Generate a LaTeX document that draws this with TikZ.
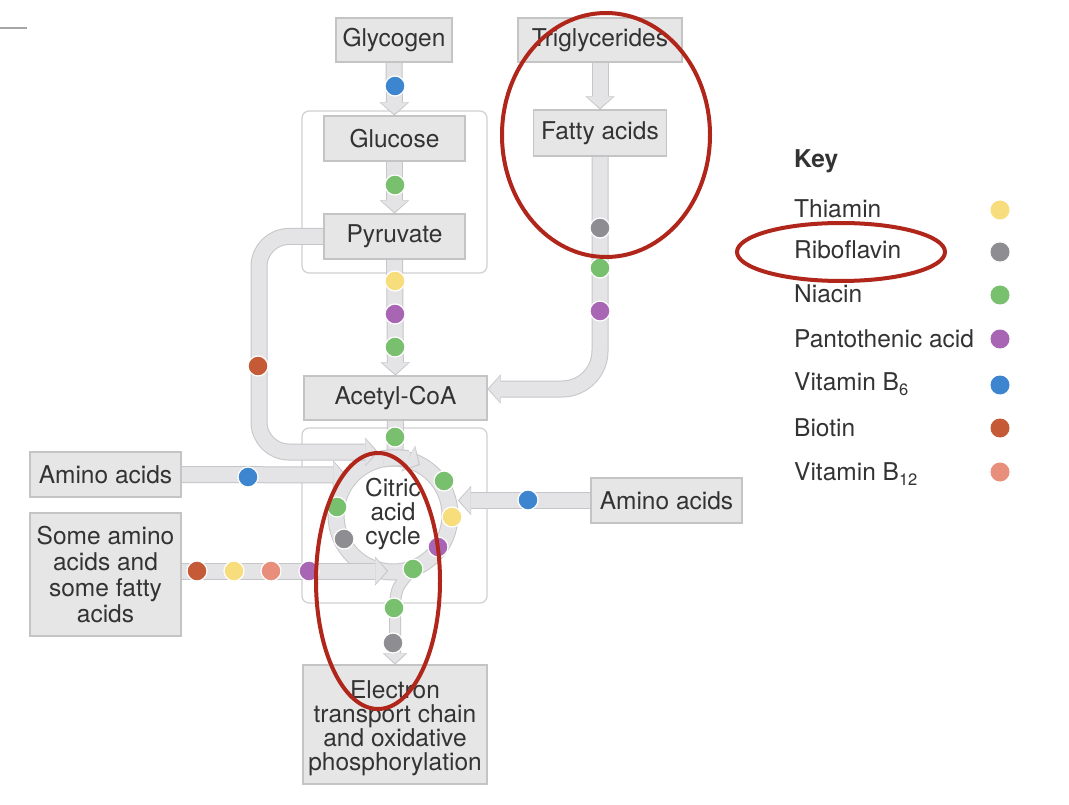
\documentclass[tikz,border=0pt]{standalone}
\usepackage{fontspec}
\setmainfont{TeX Gyre Heros}
\usetikzlibrary{arrows.meta}
\definecolor{boxfill}{HTML}{E6E6E6}
\definecolor{boxline}{HTML}{C4C4C4}
\definecolor{bandfill}{HTML}{E4E4E6}
\definecolor{bandline}{HTML}{C6C6C8}
\definecolor{txt}{HTML}{333333}
\definecolor{framec}{HTML}{D0D0D0}
\definecolor{cthia}{HTML}{F8DD7C}
\definecolor{cribo}{HTML}{8E8E92}
\definecolor{cnia}{HTML}{78C06E}
\definecolor{cpan}{HTML}{A865B4}
\definecolor{cbsix}{HTML}{3D86CF}
\definecolor{cbio}{HTML}{C45A36}
\definecolor{cbtw}{HTML}{E88F7B}
\definecolor{redmark}{HTML}{B0261B}
\pgfdeclarelayer{bg}
\pgfsetlayers{bg,main}
\newcommand\fs{\fontsize{24.5}{24}\selectfont}
\tikzset{
 box/.style={draw=boxline, fill=boxfill, line width=1.2pt, text=txt, font=\fs, inner sep=0pt, align=center},
 frame/.style={draw=framec, fill=white, line width=1.2pt, rounded corners=7pt},
 fout/.style={draw=bandline, line width=17pt, -{Triangle[width=29pt,length=13pt,line width=0.01pt]}},
 fin/.style={draw=bandfill, line width=15pt, shorten >=1.4pt, -{Triangle[width=26pt,length=11.2pt,line width=0.01pt]}},
 nout/.style={draw=bandline, line width=12pt, -{Triangle[width=24pt,length=11pt,line width=0.01pt]}},
 nin/.style={draw=bandfill, line width=10pt, shorten >=1.4pt, -{Triangle[width=21pt,length=9.4pt,line width=0.01pt]}},
 bout/.style={draw=bandline, line width=17pt},
 bin/.style={draw=bandfill, line width=15pt},
 dot/.style={circle, minimum size=20pt, inner sep=0pt, draw=white, line width=1.2pt, fill=#1},
 kdot/.style={circle, minimum size=19pt, inner sep=0pt, fill=#1},
 keytxt/.style={anchor=base west, font=\fs, text=txt, inner sep=0pt},
 redring/.style={draw=redmark, line width=4pt},
}
\newcommand\flow[2][]{\draw[fout,#1] #2; \draw[fin,#1] #2;}
\newcommand\sub[1]{\raisebox{-5pt}{\fontsize{16.5}{16}\selectfont #1}}
\begin{document}
\begin{tikzpicture}[x=1pt,y=-1pt]
\useasboundingbox (0,0) rectangle (1069,805);
% boxes
\node[box, minimum width=116pt, minimum height=44pt] (glycogen) at (394,40) {Glycogen};
\node[box, minimum width=164pt, minimum height=44pt] (trig) at (600,40) {Triglycerides};
\node[box, minimum width=141pt, minimum height=45pt] (glucose) at (394.5,138.5) {Glucose};
\node[box, minimum width=133pt, minimum height=46pt] (fatty) at (600,133) {Fatty acids};
\node[box, minimum width=141pt, minimum height=45pt] (pyruvate) at (394.5,236.5) {Pyruvate};
\node[box, minimum width=183pt, minimum height=44pt] (acetyl) at (395.5,398) {Acetyl-CoA};
\node[box, minimum width=151pt, minimum height=45pt] (aminoL) at (105.5,474.5) {Amino acids};
\node[box, minimum width=151pt, minimum height=123pt, font=\fontsize{24.5}{26}\selectfont] (some) at (105.5,574.5) {Some amino\\acids and\\some fatty\\acids};
\node[box, minimum width=151pt, minimum height=45pt] (aminoR) at (666.5,500.5) {Amino acids};
\node[box, minimum width=184pt, minimum height=119pt] (etc) at (395,724.5) {};
\node[font=\fs, text=txt, align=center, inner sep=0pt] (etclabel) at (395,728) {Electron\\transport chain\\and oxidative\\phosphorylation};
\node[font=\fs, text=txt, align=center, inner sep=0pt] (cyclelabel) at (393,514) {Citric\\acid\\cycle};
\coordinate (cyc) at (393,515);
\coordinate (ringtop) at (395,458);
\coordinate (exitA) at (408,574);
\coordinate (loopA) at (259,452);
\coordinate (loopEnd) at (378,452);
\coordinate (amLend) at (346,475);
\coordinate (amRend) at (458,500.5);
\coordinate (saEnd) at (388,571);
\begin{pgfonlayer}{bg}
\fill[white] (0,0) rectangle (1069,805);
\draw[frame] (302,111) rectangle (487,273);
\draw[frame] (302,428) rectangle (487,603);
% merged ring, acetyl link and exit
\draw[bout] (acetyl.south) -- (ringtop);
\draw[bout] (cyc) circle[radius=57];
\draw[nout] (exitA) .. controls (397,588) .. (395,602) -- (etc.north);
\draw[bin] (acetyl.south) -- (ringtop);
\draw[bin] (cyc) circle[radius=57];
\draw[nin] (exitA) .. controls (397,588) .. (395,602) -- (etc.north);
% ring arrow
\flow{(cyc) ++(-100:57) arc[start angle=-100, end angle=-62, radius=57]}
% straight flows
\flow{(glycogen) -- (glucose)}
\flow{(glucose) -- (pyruvate)}
\flow{(pyruvate) -- (acetyl)}
\flow{(trig) -- (fatty)}
\flow[rounded corners=38pt]{(fatty.south) |- ([yshift=9pt]acetyl.east)}
\flow[rounded corners=30pt]{(pyruvate.west) -| (loopA) -- (loopEnd)}
\flow{(aminoL.east) -- (amLend)}
\flow{(aminoR.west) -- (amRend)}
\flow{(some.east |- saEnd) -- (saEnd)}
\end{pgfonlayer}
% dots
\node[dot=cbsix] (dglyc) at (395,86) {};
\node[dot=cnia] (dgluc) at (395,185) {};
\node[dot=cthia] (dpy1) at (395,281) {};
\node[dot=cpan] (dpy2) at (395,314) {};
\node[dot=cnia] (dpy3) at (395,347) {};
\node[dot=cribo] (dfa1) at (600,228) {};
\node[dot=cnia] (dfa2) at (600,268) {};
\node[dot=cpan] (dfa3) at (600,311) {};
\node[dot=cbio] (dloop) at (258,366) {};
\node[dot=cnia] (dac) at (395,437) {};
\node[dot=cbsix] (daml) at (248,477) {};
\node[dot=cbsix] (damr) at (528,500) {};
\node[dot=cbio] (dsa1) at (197,571) {};
\node[dot=cthia] (dsa2) at (234,571) {};
\node[dot=cbtw] (dsa3) at (271,571) {};
\node[dot=cpan] (dsa4) at (309,571) {};
\node[dot=cnia] (dr1) at (444,481) {};
\node[dot=cthia] (dr2) at (452,517) {};
\node[dot=cpan] (dr3) at (438,547) {};
\node[dot=cnia] (dr4) at (413,569) {};
\node[dot=cnia] (dr5) at (337,507) {};
\node[dot=cribo] (dr6) at (344,539) {};
\node[dot=cnia] (de1) at (394,608) {};
\node[dot=cribo] (de2) at (393,643) {};
% key
\node[keytxt, font=\fs\bfseries] (keyhead) at (794,168) {Key};
\node[keytxt] (k1) at (794,218) {Thiamin};
\node[keytxt] (k2) at (794,259) {Riboflavin};
\node[keytxt] (k3) at (794,302) {Niacin};
\node[keytxt] (k4) at (794,347) {Pantothenic acid};
\node[keytxt] (k5) at (794,390) {Vitamin B\sub{6}};
\node[keytxt] (k6) at (794,436) {Biotin};
\node[keytxt] (k7) at (794,480) {Vitamin B\sub{12}};
\node[kdot=cthia] (kd1) at (1000,210) {};
\node[kdot=cribo] (kd2) at (1000,252) {};
\node[kdot=cnia] (kd3) at (1000,295) {};
\node[kdot=cpan] (kd4) at (1000,339) {};
\node[kdot=cbsix] (kd5) at (1000,385) {};
\node[kdot=cbio] (kd6) at (1000,428) {};
\node[kdot=cbtw] (kd7) at (1000,472) {};
% annotations
\draw[redring] (606,135) ellipse[x radius=104, y radius=122];
\draw[redring] (841,252) ellipse[x radius=104, y radius=29];
\draw[redring] (378,581) ellipse[x radius=62, y radius=128];
\draw[gray!70, line width=2pt] (0,28) -- (27,28);
\end{tikzpicture}
\end{document}
